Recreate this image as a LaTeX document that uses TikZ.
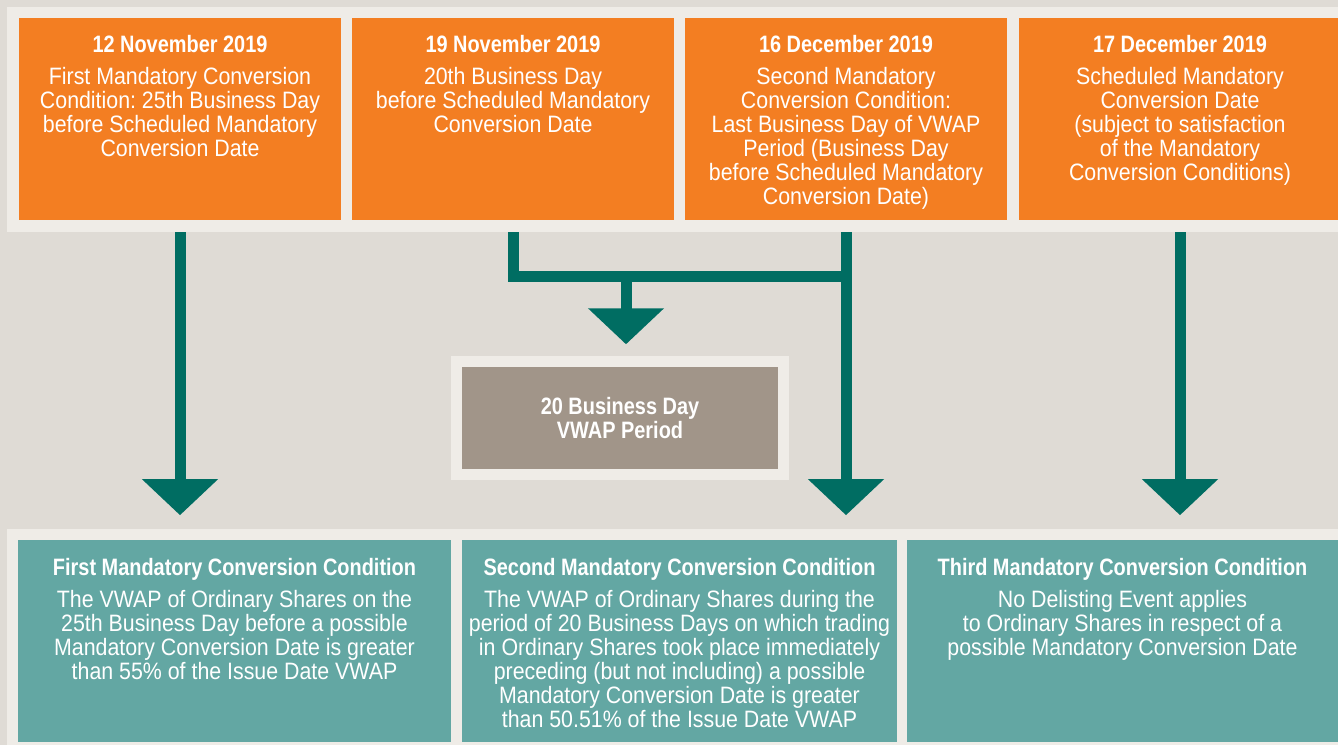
\documentclass[tikz,border=0pt]{standalone}
\usepackage{fontspec}
\setmainfont{Liberation Sans}[FakeStretch=0.9]
\newfontfamily\headfont{Liberation Sans}[FakeStretch=0.84]
\usetikzlibrary{arrows.meta}
\frenchspacing
\definecolor{bgc}{HTML}{DFDBD5}
\definecolor{bandc}{HTML}{EFECE7}
\definecolor{orangec}{HTML}{F37E22}
\definecolor{tealc}{HTML}{63A7A3}
\definecolor{grayc}{HTML}{A19589}
\definecolor{arrowc}{HTML}{006D62}
\newcommand{\head}[1]{{\headfont\bfseries #1}}
\tikzset{
  datebox/.style={fill=orangec, minimum width=6.44cm, minimum height=4.04cm, inner sep=0pt},
  condbox/.style={fill=tealc, minimum height=4.04cm, inner sep=0pt},
  vwapbox/.style={fill=grayc, draw=bandc, line width=0.22cm, minimum width=6.54cm, minimum height=2.25cm,
    text=white, align=center, font=\headfont\bfseries\fontsize{13.5pt}{13.66pt}\selectfont},
  boxtext/.style={anchor=north, inner sep=0pt, text=white, align=center, font=\fontsize{13.5pt}{13.66pt}\selectfont},
  flow/.style={draw=arrowc, line width=0.22cm, -{Triangle[width=1.48cm,length=0.72cm]},
    shorten <=0.24cm, shorten >=0.49cm}
}
\begin{document}
\begin{tikzpicture}[x=0.02cm, y=0.02cm]
    \fill[bgc] (0,0) rectangle (1338,745);
    \useasboundingbox (0,0) rectangle (1338,745);
    % light bands
    \fill[bandc] (7,513) rectangle (1338,738);
    \fill[bandc] (7,0) rectangle (1338,216);
    % dates
    \node[datebox] (d1) at (180,626) {};
    \node[datebox] (d2) at (513,626) {};
    \node[datebox] (d3) at (846,626) {};
    \node[datebox] (d4) at (1180,626) {};
    \node[boxtext] (t1) at (180,710) {\head{12 November 2019}\\[4.5pt]
        First Mandatory Conversion\\ Condition: 25th Business Day\\ before Scheduled Mandatory\\ Conversion Date};
    \node[boxtext] (t2) at (513,710) {\head{19 November 2019}\\[4.5pt]
        20th Business Day\\ before Scheduled Mandatory\\ Conversion Date};
    \node[boxtext] (t3) at (846,710) {\head{16 December 2019}\\[4.5pt]
        Second Mandatory\\ Conversion Condition:\\ Last Business Day of VWAP\\ Period (Business Day\\
        before Scheduled Mandatory\\ Conversion Date)};
    \node[boxtext] (t4) at (1180,710) {\head{17 December 2019}\\[4.5pt]
        Scheduled Mandatory\\ Conversion Date\\ (subject to satisfaction\\ of the Mandatory\\
        Conversion Conditions)};
    % vwap period
    \node[vwapbox] (vwap) at (620,327) {20 Business Day\\ VWAP Period};
    % conditions
    \node[condbox, minimum width=8.66cm] (c1) at (234.5,104) {};
    \node[condbox, minimum width=8.7cm] (c2) at (679.5,104) {};
    \node[condbox, minimum width=8.62cm] (c3) at (1122.5,104) {};
    \node[boxtext] (s1) at (234.5,187) {\head{First Mandatory Conversion Condition}\\[4.5pt]
        The VWAP of Ordinary Shares on the\\ 25th Business Day before a possible\\
        Mandatory Conversion Date is greater\\ than 55\% of the Issue Date VWAP};
    \node[boxtext] (s2) at (679.5,187) {\head{Second Mandatory Conversion Condition}\\[4.5pt]
        The VWAP of Ordinary Shares during the\\ period of 20 Business Days on which trading\\
        in Ordinary Shares took place immediately\\ preceding (but not including) a possible\\
        Mandatory Conversion Date is greater\\ than 50.51\% of the Issue Date VWAP};
    \node[boxtext] (s3) at (1122.5,187) {\head{Third Mandatory Conversion Condition}\\[4.5pt]
        No Delisting Event applies\\ to Ordinary Shares in respect of a\\
        possible Mandatory Conversion Date};
    % arrows
    \draw[flow] (d1.south) -- (d1.south |- c1.north);
    \draw[flow] (d3.south) -- (d3.south |- c2.north);
    \draw[flow] (d4.south) -- (d4.south |- c3.north);
    \coordinate (jn) at (626,469);
    \draw[flow, -, shorten >=0pt] (d2.south) |- (d3.south |- jn);
    \draw[flow, shorten <=0pt, shorten >=0.24cm] (jn) -- (jn |- vwap.north);
\end{tikzpicture}
\end{document}
